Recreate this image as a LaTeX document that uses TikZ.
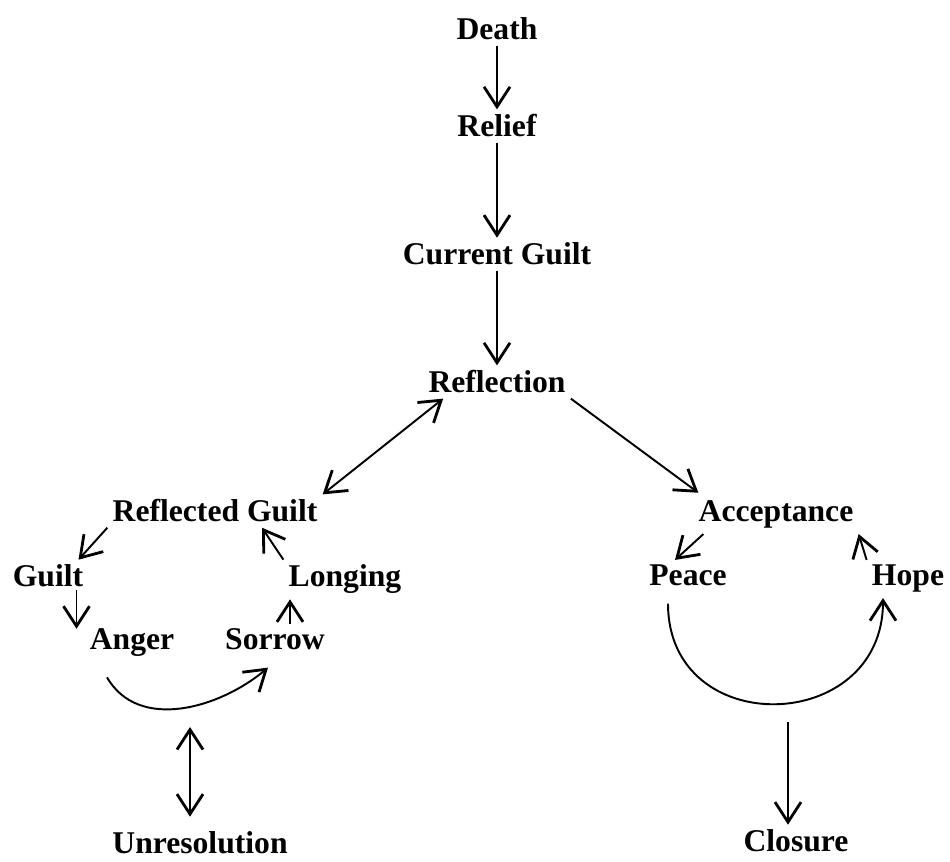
\documentclass[tikz,border=0pt]{standalone}
\usepackage{fontspec}
\setmainfont{Liberation Serif}
\usepackage{tikz}
\usetikzlibrary{arrows.meta}

\begin{document}
\begin{tikzpicture}[
        stage/.style = {anchor = base, inner sep = 1mm, font = \bfseries\fontsize{18}{20}\selectfont},
        flow/.style  = {line width = 1.1pt, -{Straight Barb[length = 4mm, width = 5.2mm, line width = 1.6pt]}},
        twoway/.style = {line width = 1.1pt, {Straight Barb[length = 4mm, width = 5.2mm, line width = 1.6pt]}-{Straight Barb[length = 4mm, width = 5.2mm, line width = 1.6pt]}}
    ]
        % frame of the page
        \useasboundingbox (0,0) rectangle (19,17.24);

        % main line down the middle
        \node[stage] (death)      at (9.94,16.44) {Death};
        \node[stage] (relief)     at (9.94,14.50) {Relief};
        \node[stage] (curguilt)   at (9.94,11.94) {Current Guilt};
        \node[stage] (reflection) at (9.94,9.38)  {Reflection};

        \draw[flow] (death) -- (relief);
        \draw[flow] (relief) -- (curguilt);
        \draw[flow] (curguilt) -- (reflection);

        % left loop
        \node[stage] (rguilt)  at (4.30,6.80) {Reflected Guilt};
        \node[stage] (guilt)   at (0.96,5.50) {Guilt};
        \node[stage] (anger)   at (2.64,4.24) {Anger};
        \node[stage] (sorrow)  at (5.50,4.24) {Sorrow};
        \node[stage] (longing) at (6.90,5.50) {Longing};

        \draw[twoway] ([xshift = 0.4cm]reflection.south west) -- (rguilt.north east);
        \draw[flow] (rguilt.south west) -- ([xshift = -0.2cm]guilt.north east);
        \draw[flow] ([xshift = -0.24cm, yshift = 0.05cm]guilt.south east) -- ([xshift = -0.24cm, yshift = -0.1cm]guilt.south east |- anger.north);
        \draw[flow] ([xshift = -0.5cm, yshift = -0.3cm]anger.south) to[out = -60, in = -140] ([xshift = -0.14cm, yshift = -0.24cm]sorrow.south);
        \draw[flow] ([xshift = 0.3cm]sorrow.north) -- ([xshift = 0.3cm]sorrow.north |- longing.south);
        \draw[flow] (longing.north west) -- ([xshift = 0.94cm]rguilt.south);

        % way out of the left loop
        \coordinate (stuck) at (3.80,2.70);
        \node[stage] (unres) at (4.00,0.16) {Unresolution};
        \draw[twoway] (stuck) -- ([yshift = 0.2cm]unres.north -| stuck);

        % right loop
        \node[stage] (accept) at (15.52,6.80) {Acceptance};
        \node[stage] (peace)  at (13.76,5.52) {Peace};
        \node[stage] (hope)   at (18.16,5.52) {Hope};

        \draw[flow] (reflection.south east) -- ([xshift = 0.1cm, yshift = 0.06cm]accept.north west);
        \draw[flow] ([xshift = 0.2cm]accept.south west) -- ([xshift = -0.26cm]peace.north);
        \draw[flow] ([xshift = -0.4cm, yshift = -0.24cm]peace.south) to[out = -90, in = -90, looseness = 1.63] ([xshift = -0.5cm]hope.south);
        \draw[flow] (hope.north west) -- (accept.south east);

        % way out of the right loop
        \coordinate (settled) at (15.76,2.80);
        \node[stage] (closure) at (15.92,0.20) {Closure};
        \draw[flow] (settled) -- (closure.north -| settled);
    \end{tikzpicture}
\end{document}
